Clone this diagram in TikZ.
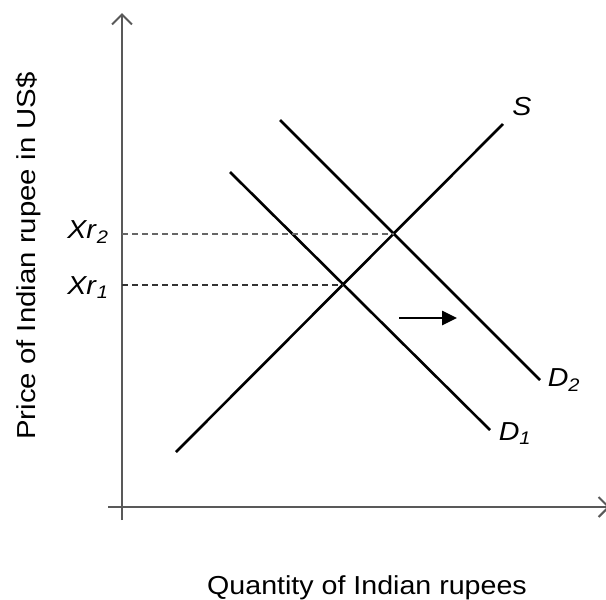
\documentclass[tikz,border=0pt]{standalone}
\usepackage{fontspec}
\setmainfont{Liberation Sans}
\usetikzlibrary{arrows.meta}
\begin{document}
\begin{tikzpicture}[x=1pt,y=-1pt,
  axis/.style={draw=black!65,line width=2pt},
  curve/.style={draw=black,line width=2.6pt},
  guide/.style={draw=black!80,line width=1.1pt,dash pattern=on 6pt off 4pt},
  lbl/.style={font=\fontsize{26}{30}\selectfont,inner sep=0pt}]
\useasboundingbox (0,0) rectangle (606,600);
% axes
\coordinate (ybot) at (122,520);
\coordinate (ytop) at (122,13);
\coordinate (xleft) at (108,507);
\coordinate (xright) at (610,507);
\draw[axis,-{Straight Barb[length=10pt,width=20pt,line width=2pt]}] (ybot) -- (ytop);
\draw[axis,-{Straight Barb[length=10pt,width=20pt,line width=2pt]}] (xleft) -- (xright);
% curves
\coordinate (s1) at (176,452);
\coordinate (s2) at (503,124);
\coordinate (d1a) at (230,172);
\coordinate (d1b) at (490,430);
\coordinate (d2a) at (280,120);
\coordinate (d2b) at (540,380);
\draw[curve] (s1) -- (s2);
\draw[curve] (d1a) -- (d1b);
\draw[curve] (d2a) -- (d2b);
% intersections
\coordinate (e1) at (343,285);
\coordinate (e2) at (394,234);
\coordinate (y1) at (122,285);
\coordinate (y2) at (122,234);
\draw[guide] (y1) -- (e1);
\draw[guide,draw=black!60] (y2) -- (e2);
% shift arrow
\coordinate (a1) at (399,318);
\coordinate (a2) at (457,318);
\draw[curve,-{Triangle[length=15pt,width=14pt]}] (a1) -- (a2);
% labels
\node[lbl] (S) at (522,107) {\scalebox{1.1}[1]{\textit{S}}};
\node[lbl] (D2) at (564,380) {\scalebox{1.1}[1]{\textit{D}\textsubscript{\textit{2}}}};
\node[lbl] (D1) at (515,434) {\scalebox{1.1}[1]{\textit{D}\textsubscript{\textit{1}}}};
\node[lbl] (Xr2) at (88,232) {\scalebox{1.1}[1]{\textit{Xr}\textsubscript{\textit{2}}}};
\node[lbl] (Xr1) at (88,288) {\scalebox{1.1}[1]{\textit{Xr}\textsubscript{\textit{1}}}};
\node[lbl,anchor=base,rotate=90] (ylab) at (35,256) {\scalebox{1.13}[1]{Price of Indian rupee in US\$}};
\node[lbl,anchor=base] (xlab) at (367,594) {\scalebox{1.1}[1]{Quantity of Indian rupees}};
\end{tikzpicture}
\end{document}
